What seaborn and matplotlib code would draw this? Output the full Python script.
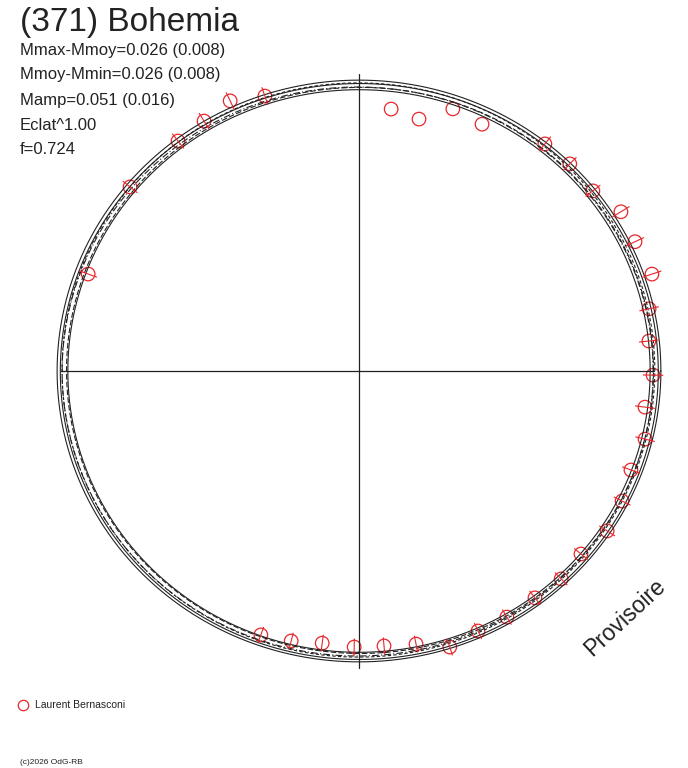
import numpy as np
import pandas as pd
import matplotlib
matplotlib.use("Agg")
from matplotlib import pyplot as plt
import seaborn as sns

# %% Data: phase angle (deg) and relative radius of each measurement
angle_deg = [160.3, 141.2, 128.2, 121.8, 115.5, 108.9, 83.0, 76.6, 70.3, 63.5,
             50.7, 44.5, 37.6, 31.3, 25.1, 18.3, 12.1, 5.9, -0.8, -7.2,
             -13.4, -20.0, -26.3, -32.8, -39.5, -45.8, -52.2, -59.0, -65.4, -71.8,
             -78.2, -84.8, -91.0, -97.7, -104.1, -110.4]
radius = [0.992, 1.013, 1.009, 1.014, 1.032, 1.002, 0.910, 0.893, 0.960, 0.951,
          1.012, 1.019, 1.018, 1.057, 1.051, 1.064, 1.023, 1.005, 1.014, 0.994,
          1.014, 0.998, 1.012, 1.018, 0.992, 1.000, 0.990, 0.990, 0.986, 1.002,
          0.962, 0.952, 0.952, 0.947, 0.960, 0.971]
radius_err = [0.031, 0.031, 0.031, 0.031, 0.031, 0.031, 0.0, 0.0, 0.0, 0.0,
              0.031, 0.031, 0.031, 0.033, 0.033, 0.033, 0.033, 0.033, 0.034, 0.033,
              0.033, 0.031, 0.031, 0.031, 0.029, 0.029, 0.029, 0.029, 0.029, 0.029,
              0.028, 0.028, 0.028, 0.028, 0.028, 0.028]

# model curves: r = r0 + a2*cos(2t) + a1*cos(t - p1)
curve_r0 = [0.987, 0.994, 1.000, 1.006, 1.012, 1.022]
curve_a2 = [0.017, 0.018, 0.019, 0.016, 0.019, 0.019]
curve_a1 = [0.000, 0.004, 0.005, 0.004, 0.002, 0.000]
curve_p1 = [0, 30, 200, 120, 300, 0]
curve_ls = ["-", (0, (5, 2)), (0, (6, 2, 1, 2)), (0, (3, 2)), "-", "-"]

title = "(371) Bohemia"
info_lines = ["Mmax-Mmoy=0.026 (0.008)", "Mmoy-Mmin=0.026 (0.008)",
              "Mamp=0.051 (0.016)", "Eclat^1.00", "f=0.724"]
observer = "Laurent Bernasconi"

red = "#e8262b"
ink = "#222222"

# %% Figure
sns.set_theme(style="white")
plt.rcParams["font.family"] = ["Liberation Sans", "DejaVu Sans"]

W, H = 688, 768
fig = plt.figure(figsize=(W / 100, H / 100), dpi=100)
fig.patch.set_facecolor("white")
scale = 290  # px per unit
half = 1.1
cx, cy = 359, 371
ax = fig.add_axes([(cx - half * scale) / W, (H - cy - half * scale) / H,
                   2 * half * scale / W, 2 * half * scale / H])
ax.set_xlim(-half, half)
ax.set_ylim(-half, half)
ax.set_axis_off()

# crosshair
ax.plot([-1.028, 1.017], [0, 0], color=ink, lw=0.9)
ax.plot([0, 0], [-1.025, 1.025], color=ink, lw=0.9)

# model curves
t = np.linspace(0, 2 * np.pi, 721)
for r0, a2, a1, p1, ls in zip(curve_r0, curve_a2, curve_a1, curve_p1, curve_ls):
    r = r0 + a2 * np.cos(2 * t) + a1 * np.cos(t - np.radians(p1))
    df = pd.DataFrame({"x": r * np.cos(t), "y": r * np.sin(t)})
    sns.lineplot(data=df, x="x", y="y", sort=False, estimator=None, ax=ax,
                 color=ink, lw=0.8, linestyle=ls)

# measurements with radial error bars
th = np.radians(angle_deg)
rad = np.array(radius)
err = np.array(radius_err)
for a, r, e in zip(th, rad, err):
    if e <= 0:
        continue
    ax.plot([(r - e) * np.cos(a), (r + e) * np.cos(a)],
            [(r - e) * np.sin(a), (r + e) * np.sin(a)],
            color=red, lw=0.8, clip_on=False)
pts = pd.DataFrame({"x": rad * np.cos(th), "y": rad * np.sin(th)})
sns.scatterplot(data=pts, x="x", y="y", ax=ax, marker="o", s=95,
                facecolor="none", edgecolor=red, linewidth=0.9, clip_on=False)

# %% Texts
fig.text(20 / W, 1 - 22 / H, title, fontsize=24, color=ink, va="center")
for i, line in enumerate(info_lines):
    fig.text(20 / W, 1 - (50 + 25 * i) / H, line, fontsize=12, color=ink, va="center")

fig.text(625 / W, 1 - 618 / H, "Provisoire", fontsize=16.5, color=ink,
         rotation=43, ha="center", va="center")

fig.lines.append(plt.Line2D([22.5 / W], [1 - 705 / H], marker="o", ms=7.5,
                            mfc="none", mec=red, mew=0.9, transform=fig.transFigure))
fig.text(35 / W, 1 - 705 / H, observer, fontsize=7.5, color=ink, va="center")
fig.text(20 / W, 1 - 763 / H, "(c)2026 OdG-RB", fontsize=6, color=ink, va="center")

plt.savefig("out.png", dpi=100)
plt.close()
